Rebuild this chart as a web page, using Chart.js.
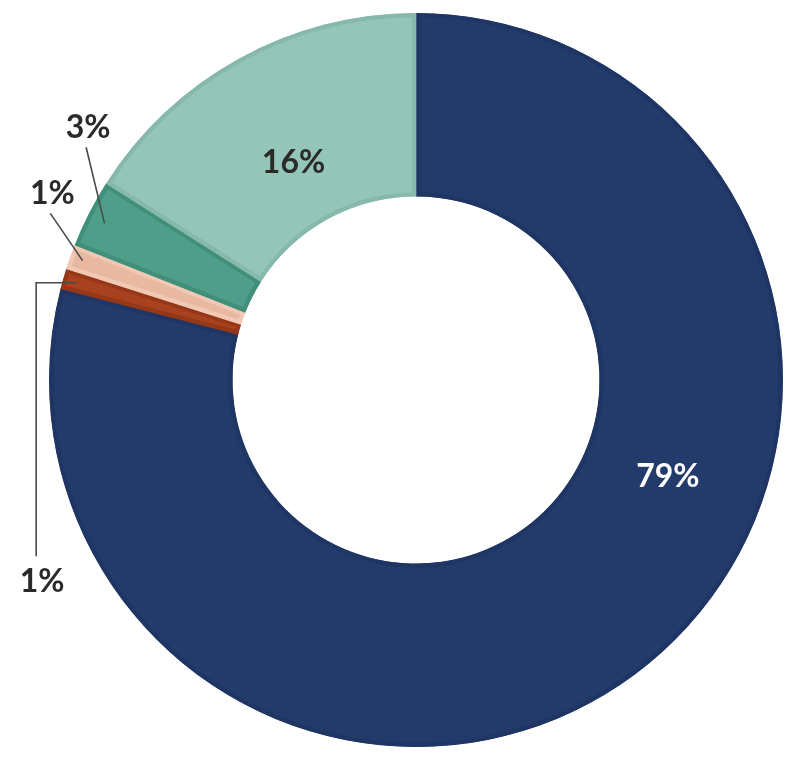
<!DOCTYPE html>
<html>
<head>
<meta charset="utf-8">
<script src="https://cdn.jsdelivr.net/npm/chart.js@4/dist/chart.umd.min.js"></script>
<style>
  html, body { margin: 0; padding: 0; background: #ffffff; }
  #wrap { width: 798px; height: 760px; }
</style>
</head>
<body>
<div id="wrap"><canvas id="c" width="798" height="760"></canvas></div>
<script>
// Data (clockwise from 12 o'clock)
const categories = ["A", "B", "C", "D", "E"];
const values = [79, 0.9, 1.1, 3, 16];
const valueLabels = ["79%", "1%", "1%", "3%", "16%"];
const fillColors = ["#233b6b", "#a8411f", "#e9b8a0", "#4f9e8a", "#93c5b8"];
const borderColors = ["#1f3563", "#963718", "#f0c8b4", "#3f8f7a", "#86b8ab"];

// Label placement: angle (deg clockwise from top), radius as fraction of outer radius
const labelPlacement = [
  { text: 0, angle: 111, r: 0.735, color: "#ffffff", line: null },
  { text: 1, angle: 0, r: 0, color: "#2b2a28", line: "elbow" },
  { text: 2, angle: 294.5, r: 1.095, color: "#2b2a28",
    line: [[294.5, 1.095], [289.7, 0.965]] },
  { text: 3, angle: 305.2, r: 1.10, color: "#2b2a28",
    line: [[305.2, 1.10], [296.7, 0.95]] },
  { text: 4, angle: 330.6, r: 0.68, color: "#2b2a28", line: null }
];

const labelPlugin = {
  id: 'labels',
  afterDatasetsDraw(chart) {
    const ctx = chart.ctx;
    const meta = chart.getDatasetMeta(0);
    const arc0 = meta.data[0];
    const cx = arc0.x, cy = arc0.y, R = arc0.outerRadius;
    const pt = (deg, f) => {
      const a = (deg - 90) * Math.PI / 180;
      return [cx + Math.cos(a) * R * f, cy + Math.sin(a) * R * f];
    };
    ctx.save();
    ctx.font = "bold 32px Lato, 'Open Sans', sans-serif";
    ctx.textAlign = "center";
    ctx.textBaseline = "middle";
    ctx.strokeStyle = "#4a4a4a";
    ctx.lineWidth = 1.6;

    labelPlacement.forEach(lp => {
      const txt = valueLabels[lp.text];
      if (lp.line === "elbow") {
        const arc = meta.data[lp.text];
        const midA = (arc.startAngle + arc.endAngle) / 2;
        const sx = cx + Math.cos(midA) * R * 0.96;
        const sy = cy + Math.sin(midA) * R * 0.96;
        const lx = cx - R * 1.035;
        const ly = cy + R * 0.48;
        ctx.beginPath();
        ctx.moveTo(sx, sy);
        ctx.lineTo(lx, sy);
        ctx.lineTo(lx, ly);
        ctx.stroke();
        ctx.fillStyle = lp.color;
        ctx.fillText(txt, lx + 6, ly + 26);
        return;
      }
      if (lp.line) {
        const p1 = pt(lp.line[0][0], lp.line[0][1]);
        const p2 = pt(lp.line[1][0], lp.line[1][1]);
        ctx.beginPath();
        ctx.moveTo(p1[0], p1[1]);
        ctx.lineTo(p2[0], p2[1]);
        ctx.stroke();
        const p = pt(lp.angle, lp.r);
        ctx.fillStyle = lp.color;
        ctx.fillText(txt, p[0] + 2, p[1] - 20);
        return;
      }
      const p = pt(lp.angle, lp.r);
      ctx.fillStyle = lp.color;
      ctx.fillText(txt, p[0], p[1]);
    });
    ctx.restore();
  }
};

new Chart(document.getElementById('c'), {
  type: 'doughnut',
  data: {
    labels: categories,
    datasets: [{
      data: values,
      backgroundColor: fillColors,
      borderColor: borderColors,
      borderWidth: 4,
      borderAlign: 'inner',
      borderJoinStyle: 'miter'
    }]
  },
  options: {
    responsive: false,
    animation: false,
    cutout: '50%',
    layout: { padding: { left: 49, right: 15, top: 13, bottom: 13 } },
    plugins: {
      legend: { display: false },
      tooltip: { enabled: false }
    }
  },
  plugins: [labelPlugin]
});
</script>
</body>
</html>
